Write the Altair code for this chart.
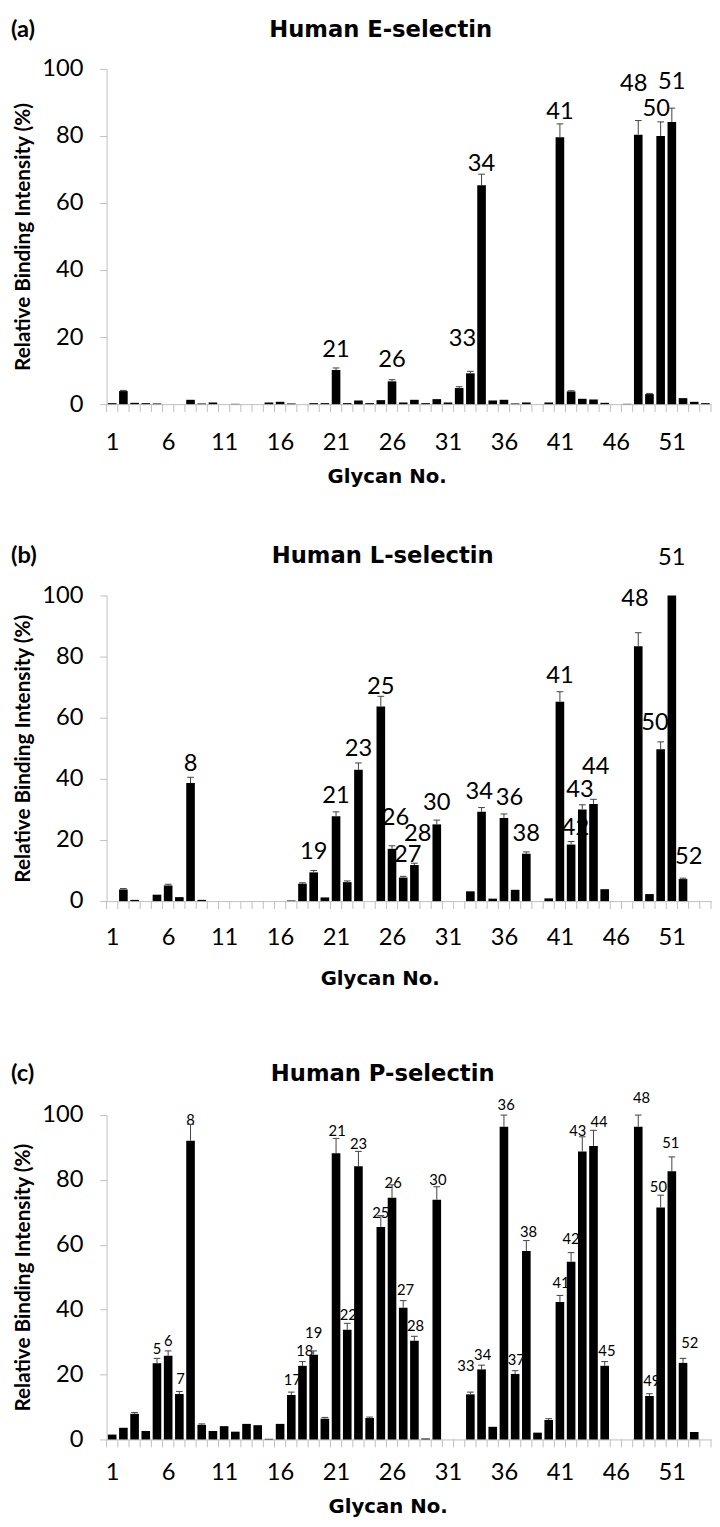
import altair as alt
import pandas as pd

glycans = list(range(1, 55))
x_tick_values = [1, 6, 11, 16, 21, 26, 31, 36, 41, 46, 51]
y_tick_values = [0, 20, 40, 60, 80, 100]

# ---- Panel (a): Human E-selectin ----
values_a = [0.3, 3.9, 0.4, 0.3, 0.2, 0, 0, 1.3, 0.2, 0.5,
            0, 0.1, 0, 0, 0.5, 0.7, 0.2, 0, 0.3, 0.3,
            10.2, 0.3, 1.1, 0.3, 1.2, 6.8, 0.5, 1.3, 0.3, 1.5,
            0.5, 4.8, 9.2, 65.3, 1.1, 1.3, 0.2, 0.5, 0, 0.5,
            79.6, 3.8, 1.6, 1.4, 0.4, 0, 0.1, 80.4, 3.0, 80.0,
            84.2, 1.8, 0.7, 0.3]
err_a = [0, 0.2, 0, 0, 0, 0, 0, 0, 0, 0,
         0, 0, 0, 0, 0, 0, 0, 0, 0, 0,
         0.6, 0, 0, 0, 0, 0.5, 0, 0, 0, 0,
         0, 0.4, 0.6, 3.3, 0, 0, 0, 0, 0, 0,
         4.0, 0.2, 0, 0, 0, 0, 0, 4.2, 0.2, 4.2,
         4.1, 0, 0, 0]
label_ids_a = [21, 26, 33, 34, 41, 48, 50, 51]
label_x_a = [21, 26, 32.3, 34, 41, 47.6, 49.6, 51]
label_y_a = [16, 13, 19.5, 71.5, 87, 95.5, 88, 96]

# ---- Panel (b): Human L-selectin ----
values_b = [0, 3.8, 0.4, 0, 2.1, 5.1, 1.3, 38.6, 0.4, 0,
            0, 0, 0, 0, 0, 0, 0.2, 5.7, 9.4, 1.2,
            27.8, 6.2, 43.0, 0, 63.7, 17.1, 7.7, 11.8, 0, 25.1,
            0, 0, 3.2, 29.2, 0.8, 27.2, 3.7, 15.5, 0, 0.9,
            65.2, 18.5, 30.0, 31.8, 3.9, 0, 0, 83.4, 2.3, 49.7,
            100, 7.2, 0, 0]
err_b = [0, 0.3, 0, 0, 0, 0.4, 0, 1.9, 0, 0,
         0, 0, 0, 0, 0, 0, 0, 0.3, 0.6, 0,
         1.4, 0.4, 2.2, 0, 3.3, 1.0, 0.4, 0.6, 0, 1.4,
         0, 0, 0, 1.4, 0, 1.3, 0, 0.6, 0, 0,
         3.3, 1.0, 1.5, 1.5, 0, 0, 0, 4.4, 0, 2.4,
         0, 0.3, 0, 0]
label_ids_b = [8, 19, 21, 23, 25, 26, 27, 28, 30, 34, 36, 38, 41, 42, 43, 44, 48, 50, 51, 52]
label_x_b = [8, 19, 21, 23, 25, 26.3, 27.4, 28.3, 30, 33.8, 36.5, 38, 41, 42.4, 42.8,
             44.2, 47.7, 49.5, 51, 52.5]
label_y_b = [44.9, 16, 34.2, 49.7, 70, 27.3, 15, 21.9, 31.9, 35.5, 33.7, 21.9,
             73.6, 24, 36.4, 43.9, 98.9, 58.3, 112.3, 14.4]

# ---- Panel (c): Human P-selectin ----
values_c = [1.5, 3.6, 7.9, 2.6, 23.5, 25.8, 14.0, 92.1, 4.5, 2.6,
            4.1, 2.4, 4.8, 4.4, 0.2, 4.8, 13.7, 22.7, 26.1, 6.4,
            88.2, 33.8, 84.2, 6.6, 65.5, 74.5, 40.6, 30.4, 0.3, 73.9,
            0, 0, 13.9, 21.6, 3.9, 96.4, 20.2, 58.1, 2.1, 6.0,
            42.4, 54.8, 88.8, 90.5, 22.7, 0, 0, 96.4, 13.4, 71.5,
            82.7, 23.6, 2.3, 0]
err_c = [0, 0, 0.4, 0, 1.5, 1.5, 0.8, 5.0, 0.3, 0,
         0, 0, 0, 0, 0, 0, 0.9, 1.3, 1.2, 0.4,
         4.6, 2.0, 4.6, 0.3, 3.5, 4.0, 2.2, 1.4, 0, 4.0,
         0, 0, 0.7, 1.3, 0, 3.6, 1.0, 3.2, 0, 0.4,
         2.0, 2.8, 4.5, 4.8, 1.3, 0, 0, 3.6, 0.7, 3.8,
         4.4, 1.4, 0, 0]
label_ids_c = [5, 6, 7, 8, 17, 18, 19, 21, 22, 23, 25, 26, 27, 28, 30, 33, 34,
               36, 37, 38, 41, 42, 43, 44, 45, 48, 49, 50, 51, 52]
label_x_c = [5.0, 6.0, 7.1, 8.0, 17.1, 18.2, 19.0, 21.1, 22.1, 23.0, 25.0, 26.1, 27.2,
             28.1, 30.1, 32.6, 34.1, 36.2, 37.1, 38.2, 41.1, 42.0, 42.6, 44.5, 45.2,
             48.3, 49.2, 49.8, 50.9, 52.6]
label_y_c = [28.0, 30.2, 18.7, 98.5, 18.4, 27.4, 32.8, 95.1, 38.3, 91.2, 69.9, 79.0,
             46.2, 35.0, 80.0, 22.5, 26.1, 103.0, 24.6, 63.8, 48.3, 61.7, 95.1, 97.9,
             27.4, 105.2, 18.0, 77.8, 91.5, 29.7]

NUM_FONT = "Lato"
WIDE_BOLD = "DejaVu Sans"
AXIS_GRAY = "#bfbfbf"
ERR_COLOR = "#404040"
W = 613


def make_panel(values, errs, label_ids, label_x, label_y, label_size, title, tag, height,
               xlabel_pad, xtitle_pad, title_y, title_x, xtitle_x):
    df = pd.DataFrame({"glycan": glycans, "value": values, "err": errs})
    df["top"] = df["value"] + df["err"]

    xscale = alt.Scale(domain=[glycans[0] - 0.5, glycans[-1] + 0.5], nice=False, zero=False)
    xaxis = alt.Axis(
        title="Glycan No.", values=x_tick_values, format="d", labelAngle=0,
        grid=False, labelFlush=False, labelOverlap=False,
        labelFont=NUM_FONT, labelFontSize=24, labelColor="black",
        labelPadding=xlabel_pad, ticks=True, tickOpacity=0, tickSize=8,
        domainColor=AXIS_GRAY,
        titleFont=WIDE_BOLD, titleFontSize=20, titleFontWeight="bold",
        titleColor="black", titlePadding=xtitle_pad,
        titleX=xtitle_x, titleAlign="center",
    )
    yscale = alt.Scale(domain=[0, 100], nice=False)
    yaxis = alt.Axis(
        title="Relative Binding Intensity (%)", values=y_tick_values, grid=False,
        labelFont=NUM_FONT, labelFontSize=24, labelColor="black", labelPadding=17,
        tickColor=AXIS_GRAY, tickSize=7, domainColor=AXIS_GRAY,
        titleFont=NUM_FONT, titleFontSize=21, titleFontWeight="bold",
        titleColor="black", titlePadding=8,
    )

    base = alt.Chart(df)

    bars = base.transform_calculate(
        x0="datum.glycan - 0.385", x1="datum.glycan + 0.385"
    ).mark_bar(color="black").encode(
        x=alt.X("x0:Q", scale=xscale, axis=xaxis), x2="x1:Q",
        y=alt.Y("value:Q", scale=yscale, axis=yaxis), y2=alt.datum(0),
    )
    err_base = base.transform_filter("datum.err > 0")
    err_rule = err_base.mark_rule(color=ERR_COLOR, strokeWidth=1).encode(
        x="glycan:Q", y="value:Q", y2="top:Q"
    )
    err_cap = err_base.transform_calculate(
        c0="datum.glycan - 0.3", c1="datum.glycan + 0.3"
    ).mark_rule(color=ERR_COLOR, strokeWidth=1).encode(
        x="c0:Q", x2="c1:Q", y="top:Q"
    )

    # category-boundary ticks on the x axis
    bdf = pd.DataFrame({"b": [g - 0.5 for g in glycans] + [glycans[-1] + 0.5]})
    xticks = alt.Chart(bdf).mark_rule(color=AXIS_GRAY, strokeWidth=1).encode(
        x="b:Q", y=alt.value(height), y2=alt.value(height + 8)
    )

    ldf = pd.DataFrame({"glycan": label_ids, "lx": label_x, "ly": label_y})
    labels = alt.Chart(ldf).mark_text(
        font=NUM_FONT, fontSize=label_size, baseline="middle", color="black"
    ).encode(x="lx:Q", y="ly:Q", text="glycan:N")

    head_df = pd.DataFrame({"t": [title], "tag": [tag]})
    title_mark = alt.Chart(head_df).mark_text(
        font=WIDE_BOLD, fontSize=23, fontWeight="bold", align="center",
        baseline="middle", color="black"
    ).encode(text="t:N", x=alt.value(title_x), y=alt.value(title_y))
    tag_mark = alt.Chart(head_df).mark_text(
        font=NUM_FONT, fontSize=24, fontWeight="bold", align="left",
        baseline="middle", color="black"
    ).encode(text="tag:N", x=alt.value(-97), y=alt.value(title_y))

    return alt.layer(
        labels, bars, err_rule, err_cap, xticks, title_mark, tag_mark
    ).properties(width=W, height=height)


pa = make_panel(values_a, err_a, label_ids_a, label_x_a, label_y_a, 24,
                "Human E-selectin", "(a)", 340, 19, 12, -39, 278, 284)
pb = make_panel(values_b, err_b, label_ids_b, label_x_b, label_y_b, 24,
                "Human L-selectin", "(b)", 310, 17, 20, -40, 280, 277)
pc = make_panel(values_c, err_c, label_ids_c, label_x_c, label_y_c, 15,
                "Human P-selectin", "(c)", 329, 14, 12, -42, 280, 285)

chart = alt.vconcat(
    alt.vconcat(pa, pb, spacing=59), pc, spacing=74
).properties(
    padding={"left": 3, "top": 0, "right": 0, "bottom": 0}
).configure_view(stroke=None)

chart.save("out.html", embed_options={"renderer": "svg", "actions": False})
